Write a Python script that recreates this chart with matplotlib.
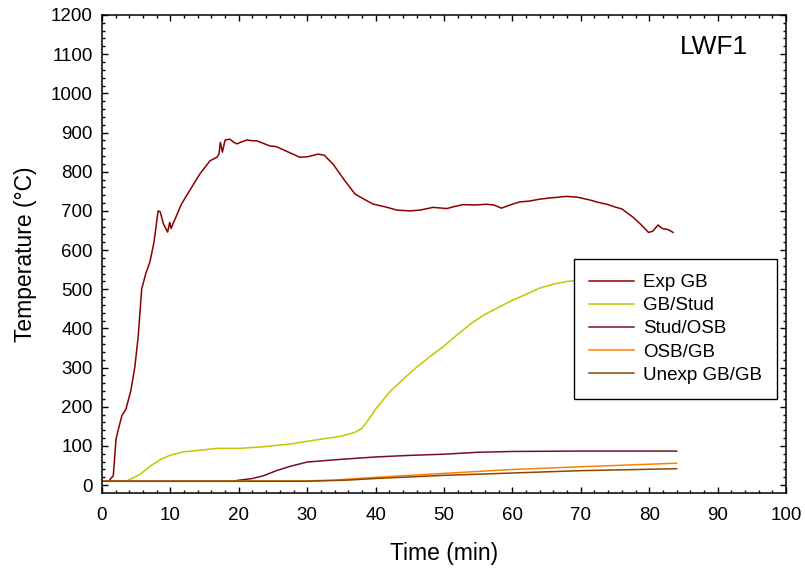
import matplotlib.pyplot as plt
import numpy as np

plt.rcParams['font.family'] = ['Liberation Sans', 'DejaVu Sans']

# Exp GB
t_exp = [0, 1.0, 1.2, 1.65, 2.05, 2.4, 2.9, 3.5, 4.2, 4.8, 5.3, 5.8, 6.4, 7.0, 7.6, 8.2,
         8.5, 9.0, 9.6, 9.9, 10.1, 10.4, 10.9, 11.6, 12.4, 13.1, 14.3, 15.0, 15.8, 16.8,
         17.1, 17.3, 17.6, 18.0, 18.7, 19.2, 19.7, 20.4, 21.2, 22.0, 22.6, 23.5, 24.5,
         25.5, 27.0, 28.9, 30.0, 31.6, 32.5, 33.8, 35.5, 37.0, 38.5, 39.7, 41.5, 43.1,
         45.0, 46.5, 48.4, 50.4, 51.5, 52.8, 54.5, 56.2, 57.3, 58.4, 59.8, 61.1, 62.5,
         64.0, 65.5, 67.9, 69.5, 71.3, 72.5, 73.8, 75.0, 76.0, 77.7, 78.8, 79.9, 80.5,
         81.3, 81.9, 82.8, 83.5]
T_exp = [10, 10, 15, 24, 117, 143, 177, 194, 240, 301, 381, 500, 540, 569, 620, 700,
         698, 666, 646, 671, 655, 668, 688, 717, 740, 760, 794, 810, 828, 837,
         845, 875, 850, 881, 883, 876, 871, 876, 881, 879, 879, 873, 866,
         864, 852, 837, 838, 845, 842, 819, 777, 743, 728, 717, 710, 702,
         700, 702, 709, 706, 711, 716, 715, 717, 715, 707, 716, 723, 725,
         730, 733, 737, 735, 728, 722, 717, 710, 705, 683, 665, 645, 648,
         664, 655, 652, 645]

# GB/Stud
t_gbs = [0, 3.5, 4.1, 5.6, 7.0, 8.5, 9.9, 11.9, 14.3, 16.8, 20.2, 23.6, 27.5, 30, 35,
         37, 38, 39, 40, 42, 44, 46, 48, 50, 52, 54, 56, 58, 60, 62, 64, 66, 68, 70,
         75, 80, 84]
T_gbs = [10, 10, 15, 28, 48, 65, 76, 85, 89, 94, 94, 98, 105, 112, 125,
         135, 145, 168, 194, 237, 270, 301, 329, 355, 385, 413, 436, 454, 472, 487,
         503, 513, 520, 523, 528, 532, 535]

# Stud/OSB
t_so = [0, 19, 20.2, 22, 23.6, 25.5, 27.5, 30, 35, 40, 45, 50, 55, 60, 70, 84]
T_so = [10, 10, 13, 17, 24, 37, 48, 59, 66, 72, 76, 79, 84, 86, 87, 87]

# OSB/GB
t_og = [0, 30, 34, 40, 50, 60, 70, 84]
T_og = [10, 11, 13, 20, 30, 40, 47, 56]

# Unexp GB/GB
t_un = [0, 30, 36, 40, 50, 60, 70, 84]
T_un = [10, 10, 13, 17, 25, 31, 37, 42]

series = [
    ("Exp GB", t_exp, T_exp, "#8b0000"),
    ("GB/Stud", t_gbs, T_gbs, "#c2c800"),
    ("Stud/OSB", t_so, T_so, "#7a0e1e"),
    ("OSB/GB", t_og, T_og, "#ff8000"),
    ("Unexp GB/GB", t_un, T_un, "#8b4500"),
]

fig = plt.figure(figsize=(8.05, 5.70), dpi=100)
ax = fig.add_axes([0.1267, 0.1351, 0.8497, 0.8386])

for name, t, T, c in series:
    ax.plot(t, T, color=c, lw=1.1, label=name)

ax.set_xlim(0, 100)
ax.set_ylim(-20, 1200)
ax.set_xticks(np.arange(0, 101, 10))
ax.set_xticks(np.arange(0, 101, 2), minor=True)
ax.set_yticks(np.arange(0, 1201, 100))
ax.set_yticks(np.arange(0, 1201, 20), minor=True)

ax.tick_params(which='both', direction='in', top=True, right=True, width=1.0)
ax.tick_params(which='major', length=4.5, labelsize=13.5)
ax.tick_params(which='minor', length=2.5)
ax.tick_params(axis='x', pad=10)
ax.tick_params(axis='y', pad=6.5)
for s in ax.spines.values():
    s.set_linewidth(1.1)

ax.set_xlabel("Time (min)", fontsize=16.5, labelpad=13)
ax.set_ylabel("Temperature (°C)", fontsize=16.5, labelpad=10.5)

ax.text(0.944, 0.933, "LWF1", transform=ax.transAxes, fontsize=19,
        ha='right', va='center')

leg = ax.legend(loc='upper left', bbox_to_anchor=(0.690, 0.4895), fontsize=13.5,
                frameon=True, fancybox=False, edgecolor='black', framealpha=1,
                handlelength=2.4, handletextpad=0.5, labelspacing=0.32,
                borderpad=0.8, borderaxespad=0)
leg.get_frame().set_linewidth(1.0)

fig.savefig("out.png", dpi=100)
